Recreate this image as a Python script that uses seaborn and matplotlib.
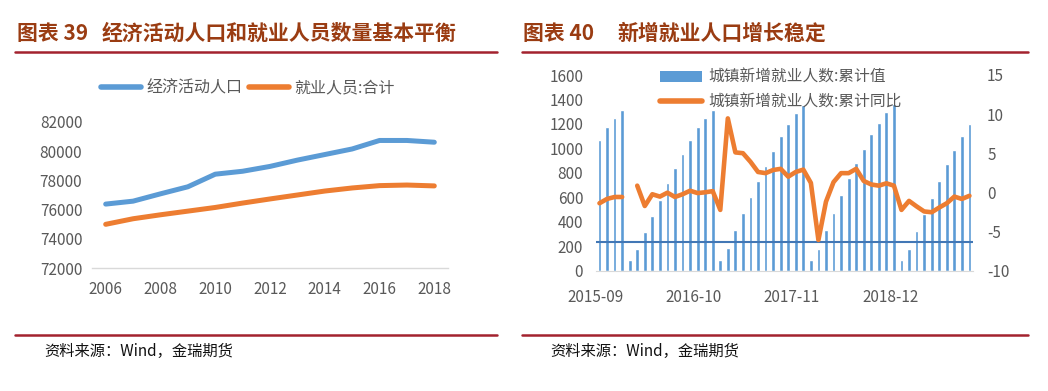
import numpy as np
import pandas as pd
import matplotlib
matplotlib.use("Agg")
import matplotlib.pyplot as plt
import seaborn as sns
from matplotlib.lines import Line2D
from matplotlib.patches import Patch

# ---------------- data ----------------
years = [2006, 2007, 2008, 2009, 2010, 2011, 2012, 2013, 2014, 2015, 2016, 2017, 2018]
econ_active = [76380, 76580, 77080, 77560, 78420, 78620, 78950, 79380, 79760, 80140, 80720, 80720, 80600]
employed = [75000, 75380, 75650, 75900, 76150, 76450, 76730, 77000, 77270, 77480, 77640, 77680, 77620]
left_yticks = [72000, 74000, 76000, 78000, 80000, 82000]
left_xlabels = ["2006", "2008", "2010", "2012", "2014", "2016", "2018"]

new_jobs_2015 = [1068, 1172, 1251, 1314]
new_jobs_2016 = [87, 177, 319, 442, 578, 714, 837, 951, 1068, 1172, 1250, 1314]
new_jobs_2017 = [87, 183, 333, 469, 600, 736, 856, 979, 1101, 1197, 1287, 1355]
new_jobs_2018 = [90, 177, 333, 470, 619, 755, 883, 995, 1115, 1205, 1300, 1361]
new_jobs_2019 = [87, 177, 324, 463, 597, 736, 870, 987, 1101, 1197]

yoy_2015 = [-1.4, -0.85, -0.6, -0.6]
yoy_2016 = [np.nan, 0.85, -1.75, -0.25, -0.55, -0.05, -0.6, -0.25, 0.2, -0.1, 0.0, 0.15]
yoy_2017 = [-2.25, 9.45, 5.1, 5.0, 3.9, 2.6, 2.45, 2.85, 3.0, 2.0, 2.6, 2.9]
yoy_2018 = [1.2, -6.1, -1.2, 1.3, 2.45, 2.45, 3.0, 1.45, 1.0, 0.85, 1.15, 0.85]
yoy_2019 = [-2.25, -1.1, -1.8, -2.45, -2.55, -1.95, -1.4, -0.55, -0.85, -0.45]

right_xlabels = ["2015-09", "2016-10", "2017-11", "2018-12"]
left_axis_ticks = [0, 200, 400, 600, 800, 1000, 1200, 1400, 1600]
right_axis_ticks = [-10, -5, 0, 5, 10, 15]
secondary_axis_cross = -6.3

# ---------------- style ----------------
sns.set_style("white")
plt.rcParams["font.family"] = ["Noto Sans CJK SC", "DejaVu Sans"]
BLUE = "#5B9BD5"
ORANGE = "#ED7D31"
GREY = "#595959"
AXIS = "#D9D9D9"
TITLE_C = "#9A3C12"
RULE_C = "#A3222E"

W, H = 1048, 391
fig = plt.figure(figsize=(W / 100, H / 100), dpi=100)


def fx(px):
    return px / W


def fy(py):
    return 1 - py / H


# ---------------- left chart ----------------
ax1 = fig.add_axes([fx(92), fy(268.3), fx(448) - fx(92), fy(121.7) - fy(268.3)])
df1 = pd.DataFrame({"pos": np.arange(len(years)), "econ": econ_active, "emp": employed})
sns.lineplot(data=df1, x="pos", y="econ", ax=ax1, color=BLUE, lw=3.6, solid_capstyle="round",
             solid_joinstyle="round", legend=False)
sns.lineplot(data=df1, x="pos", y="emp", ax=ax1, color=ORANGE, lw=3.6, solid_capstyle="round",
             solid_joinstyle="round", legend=False)
ax1.set_xlim(-0.5, len(years) - 0.5)
ax1.set_ylim(left_yticks[0], left_yticks[-1])
ax1.set_yticks(left_yticks)
ax1.set_yticklabels([str(v) for v in left_yticks])
ax1.set_xticks(np.arange(0, len(years), 2))
ax1.set_xticklabels(left_xlabels)
ax1.set_xticks(np.arange(-0.5, len(years) - 1, 2), minor=True)
ax1.tick_params(axis="x", which="major", length=0, pad=9, labelsize=11, labelcolor=GREY)
ax1.tick_params(axis="x", which="minor", length=4, width=1, color=AXIS)
ax1.tick_params(axis="y", length=0, pad=7, labelsize=11, labelcolor=GREY)
ax1.set_xlabel("")
ax1.set_ylabel("")
for s in ["top", "right", "left"]:
    ax1.spines[s].set_visible(False)
ax1.spines["bottom"].set_color(AXIS)
ax1.spines["bottom"].set_linewidth(1)
ax1.grid(False)

leg1 = ax1.legend(
    handles=[Line2D([], [], color=BLUE, lw=4, solid_capstyle="round"),
             Line2D([], [], color=ORANGE, lw=4, solid_capstyle="round")],
    labels=["经济活动人口", "就业人员:合计"],
    ncol=2, loc="center", bbox_to_anchor=(fx(248), fy(88)), bbox_transform=fig.transFigure,
    frameon=False, fontsize=11.5, handlelength=2.5, handletextpad=0.3, columnspacing=0.45,
    borderpad=0, borderaxespad=0)
for t in leg1.get_texts():
    t.set_color(GREY)

# ---------------- right chart ----------------
bars = new_jobs_2015 + new_jobs_2016 + new_jobs_2017 + new_jobs_2018 + new_jobs_2019
yoy = yoy_2015 + yoy_2016 + yoy_2017 + yoy_2018 + yoy_2019
n = len(bars)
df2 = pd.DataFrame({"pos": np.arange(n), "jobs": bars, "yoy": yoy})
df2["seg"] = df2["yoy"].isna().cumsum()

ax2 = fig.add_axes([fx(595.7), fy(270.5), fx(973.2) - fx(595.7), fy(75) - fy(270.5)])
sns.barplot(data=df2, x="pos", y="jobs", ax=ax2, color=BLUE, saturation=1, width=0.5)
ax2.set_xlim(-0.5, n - 0.5)
ax2.set_ylim(left_axis_ticks[0], left_axis_ticks[-1])
ax2.set_yticks(left_axis_ticks)
ax2.set_yticklabels([str(v) for v in left_axis_ticks])
ax2.set_xticks([-0.5, 12.5, 25.5, 38.5])
ax2.set_xticklabels(right_xlabels)
ax2.tick_params(axis="x", length=5, width=1, color="#BFBFBF", pad=8, labelsize=11, labelcolor=GREY)
ax2.tick_params(axis="y", length=0, pad=9, labelsize=11, labelcolor=GREY)
ax2.set_xlabel("")
ax2.set_ylabel("")
for s in ["top", "right", "left"]:
    ax2.spines[s].set_visible(False)
ax2.spines["bottom"].set_color(AXIS)
ax2.grid(False)

ax3 = ax2.twinx()
ax3.axhline(secondary_axis_cross, color="#4277B5", lw=1.5, zorder=1)
sns.lineplot(data=df2.dropna(), x="pos", y="yoy", units="seg", estimator=None, ax=ax3,
             color=ORANGE, lw=3.3, solid_joinstyle="round", solid_capstyle="round", legend=False)
ax3.set_ylim(right_axis_ticks[0], right_axis_ticks[-1])
ax3.set_yticks(right_axis_ticks)
ax3.set_yticklabels([str(v) for v in right_axis_ticks])
ax3.tick_params(axis="y", length=0, pad=10, labelsize=11, labelcolor=GREY)
ax3.set_xlim(-0.5, n - 0.5)
ax3.set_ylabel("")
ax3.set_xlabel("")
for s in ax3.spines.values():
    s.set_visible(False)
ax3.grid(False)

leg2 = ax3.legend(
    handles=[Patch(facecolor=BLUE, edgecolor="none"),
             Line2D([], [], color=ORANGE, lw=4)],
    labels=["城镇新增就业人数:累计值", "城镇新增就业人数:累计同比"],
    loc="upper left", bbox_to_anchor=(fx(660), fy(69)), bbox_transform=fig.transFigure,
    frameon=False, fontsize=11.3, handlelength=2.7, handleheight=0.75, handletextpad=0.35,
    labelspacing=0.5, borderpad=0, borderaxespad=0)
for t in leg2.get_texts():
    t.set_color(GREY)

# ---------------- titles, rules, footers ----------------
fig.text(fx(17), fy(33), "图表 39", fontsize=15, weight="bold", color=TITLE_C, va="center", ha="left")
fig.text(fx(102), fy(33), "经济活动人口和就业人员数量基本平衡", fontsize=15, weight="bold",
         color=TITLE_C, va="center", ha="left")
fig.text(fx(523), fy(33), "图表 40", fontsize=15, weight="bold", color=TITLE_C, va="center", ha="left")
fig.text(fx(618), fy(33), "新增就业人口增长稳定", fontsize=15, weight="bold", color=TITLE_C,
         va="center", ha="left")

for x0, x1 in [(15, 497), (522, 1028)]:
    fig.add_artist(Line2D([fx(x0), fx(x1)], [fy(51.5), fy(51.5)], color=RULE_C, lw=1.8))
    fig.add_artist(Line2D([fx(x0), fx(x1)], [fy(334.5), fy(334.5)], color=RULE_C, lw=1.8))

fig.text(fx(44), fy(351), "资料来源：Wind，金瑞期货", fontsize=11, color="#111111", va="center", ha="left")
fig.text(fx(550), fy(351), "资料来源：Wind，金瑞期货", fontsize=11, color="#111111", va="center", ha="left")

fig.savefig("out.png", dpi=100)
